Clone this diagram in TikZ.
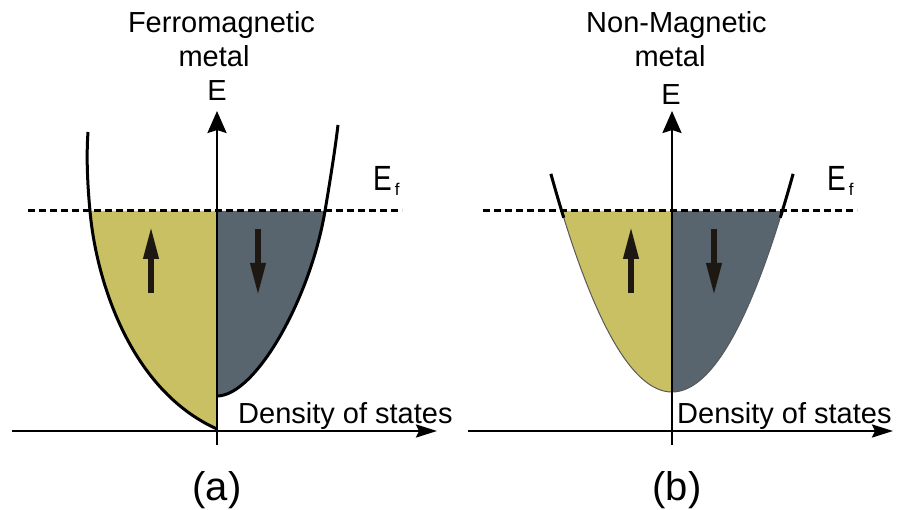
\documentclass[tikz,border=0pt]{standalone}
\usepackage{fontspec}
\setmainfont{Liberation Sans}
\usetikzlibrary{arrows.meta}
\definecolor{spinup}{HTML}{C8C062}
\definecolor{spindn}{HTML}{58646E}
\definecolor{spinarrow}{HTML}{1E1812}
\newcommand{\fermiE}{\scalebox{0.8}[1]{\fontsize{35}{40}\selectfont E}\hspace{3pt}\raisebox{-5pt}{\fontsize{17}{17}\selectfont f}}
\begin{document}
\begin{tikzpicture}[x=1pt,y=-1pt,
  lbl/.style={inner sep=0pt, font=\fontsize{29}{34}\selectfont},
  captxt/.style={inner sep=0pt, font=\fontsize{40}{44}\selectfont},
  axis/.style={line width=2.6pt, black},
  vaxis/.style={axis, -{Stealth[length=22pt,width=19pt,inset=3pt]}},
  haxis/.style={axis, -{Stealth[length=21pt,width=13pt,inset=3pt]}},
  curve/.style={line width=3pt, black},
  thincurve/.style={line width=1pt, black!65},
  fermi/.style={line width=3pt, black, dash pattern=on 7pt off 4pt},
  spin/.style={line width=6.5pt, spinarrow, -{Triangle[length=34pt,width=14pt]}},
]
\useasboundingbox (0,0) rectangle (899,510);

% ---------------- panel (a) ----------------
\fill[spinup] (90,211) .. controls (96,280) and (130,390) .. (217,429) -- (217,211) -- cycle;
\fill[spindn] (217,211) -- (217,396) .. controls (255,396) and (310,300) .. (325,211) -- cycle;
\draw[curve] (88,132) .. controls (86,160) and (88,190) .. (90,211)
             .. controls (96,280) and (130,390) .. (217,429);
\draw[curve] (217,396) .. controls (255,396) and (310,300) .. (325,211)
             .. controls (331,175) and (335,150) .. (338,125);

\coordinate (fa1) at (28,211);
\coordinate (fa2) at (402,211);
\draw[fermi] (fa1) -- (fa2);

\coordinate (va0) at (217,445);
\coordinate (va1) at (217,111);
\coordinate (ha0) at (12,431);
\coordinate (ha1) at (437,431);
\draw[vaxis] (va0) -- (va1);
\draw[haxis] (ha0) -- (ha1);

\coordinate (ua0) at (151,293);
\coordinate (ua1) at (151,225);
\coordinate (da0) at (258,229);
\coordinate (da1) at (258,297);
\draw[spin] (ua0) -- (ua1);
\draw[spin] (da0) -- (da1);

\node[lbl, anchor=base] (ta1) at (221.5,33) {Ferromagnetic};
\node[lbl, anchor=base] (ta2) at (214,67) {metal};
\node[lbl, anchor=base] (ea) at (217,101) {E};
\node[lbl, anchor=base west] (efa) at (373,191) {\fermiE};
\node[lbl, anchor=base west] (dosa) at (238,423) {Density of states};
\node[captxt, anchor=base] (capa) at (217,500) {(a)};

% ---------------- panel (b) ----------------
\fill[spinup] (672,392) -- plot[domain=0:13.454, samples=40, variable=\t] ({672-8.2*\t},{392-\t*\t}) -- (672,211) -- cycle;
\fill[spindn] (672,392) -- plot[domain=0:13.454, samples=40, variable=\t] ({672+8.2*\t},{392-\t*\t}) -- (672,211) -- cycle;
\draw[thincurve] plot[domain=-13.3:13.3, samples=80, variable=\t] ({672+8.2*\t},{392-\t*\t});
\draw[curve] plot[domain=13.2:14.77, samples=15, variable=\t] ({672-8.2*\t},{392-\t*\t});
\draw[curve] plot[domain=13.2:14.77, samples=15, variable=\t] ({672+8.2*\t},{392-\t*\t});

\coordinate (fb1) at (483,211);
\coordinate (fb2) at (857,211);
\draw[fermi] (fb1) -- (fb2);

\coordinate (vb0) at (672,445);
\coordinate (vb1) at (672,111);
\coordinate (hb0) at (468,431);
\coordinate (hb1) at (893,431);
\draw[vaxis] (vb0) -- (vb1);
\draw[haxis] (hb0) -- (hb1);

\coordinate (ub0) at (631,293);
\coordinate (ub1) at (631,225);
\coordinate (db0) at (714,229);
\coordinate (db1) at (714,297);
\draw[spin] (ub0) -- (ub1);
\draw[spin] (db0) -- (db1);

\node[lbl, anchor=base] (tb1) at (676.5,33) {Non-Magnetic};
\node[lbl, anchor=base] (tb2) at (670,67) {metal};
\node[lbl, anchor=base] (eb) at (671,105) {E};
\node[lbl, anchor=base west] (efb) at (827,191) {\fermiE};
\node[lbl, anchor=base west] (dosb) at (677,423) {Density of states};
\node[captxt, anchor=base] (capb) at (677,500) {(b)};
\end{tikzpicture}
\end{document}
